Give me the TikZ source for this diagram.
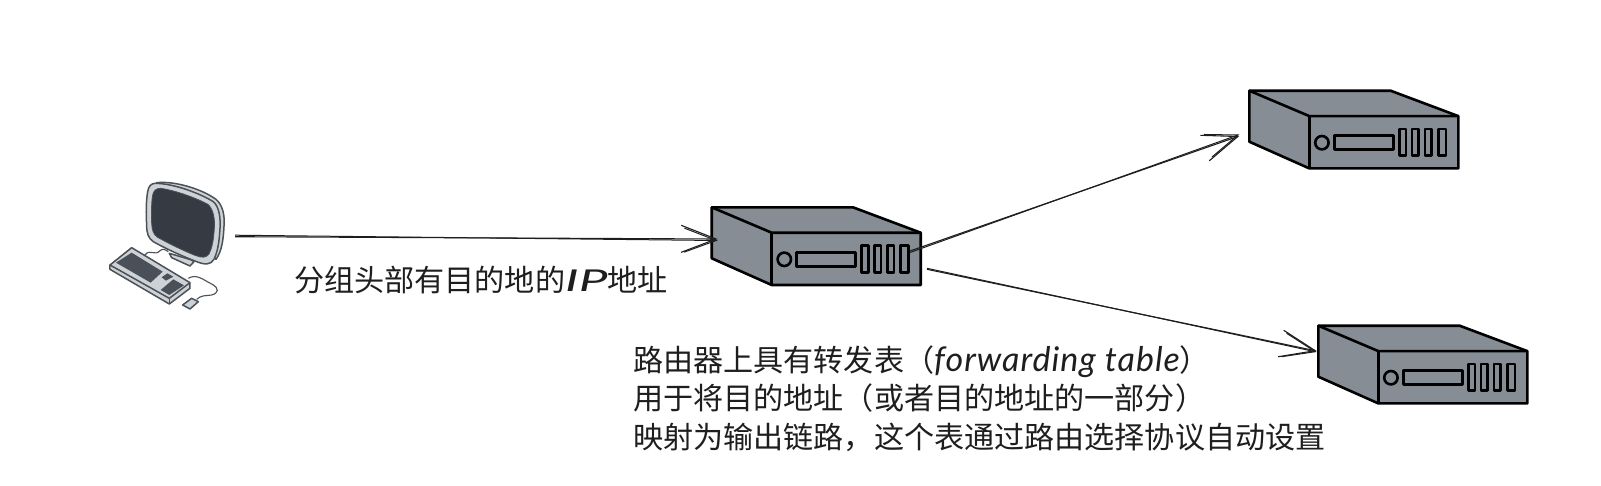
\documentclass[tikz,border=0pt]{standalone}
\usepackage{fontspec}
\setmainfont{Noto Sans CJK SC}
\newfontfamily\handfont[LetterSpace=3]{Lato Italic}
\newfontfamily\handwide[FakeStretch=1.7]{Lato Italic}
\usetikzlibrary{arrows.meta}
\definecolor{routergray}{HTML}{868D94}
\definecolor{ink}{HTML}{1E1E1E}
\definecolor{screen}{HTML}{363A42}
\definecolor{keydark}{HTML}{4A5057}
\definecolor{shell}{HTML}{CDD2D7}
\definecolor{pcline}{HTML}{4C5158}
\tikzset{
  routerline/.style={draw=black,fill=routergray,line width=2.6pt,line join=round},
  pcshape/.style={draw=pcline,line width=1.5pt,line join=round},
  cable/.style={draw=pcline,line width=1.1pt},
  link/.style={draw=ink,line width=1.1pt,-{Straight Barb[length=35pt,width=27pt,line width=1.1pt]}},
  linkecho/.style={draw=ink,line width=1pt,-{Straight Barb[length=32pt,width=24pt,line width=1pt]}},
  caption/.style={text=ink,anchor=north west,align=left,inner sep=0pt,font=\fontsize{30.1pt}{38.5pt}\selectfont},
  pics/router/.style={code={
    \path[routerline] (0,0) -- (141.3,0) -- (209,25.4) -- (209,77.7) -- (60,77.7) -- (0,51) -- cycle;
    \path[routerline,fill=none] (0,0) -- (60,25.4) -- (209,25.4);
    \path[routerline,fill=none] (60,25.4) -- (60,77.7);
    \path[routerline,fill=none] (72.6,52) circle (6.7);
    \path[routerline,fill=none] (85,45) rectangle (144,59);
    \path[routerline,fill=none] (150,38.4) rectangle (156.6,65);
    \path[routerline,fill=none] (162.6,38.4) rectangle (169.3,65);
    \path[routerline,fill=none] (175.6,38.4) rectangle (182.3,65);
    \path[routerline,fill=none] (189,38.4) rectangle (196.6,65);
    \coordinate (-out) at (198.3,43.7);
    \coordinate (-outlow) at (215.3,62);
  }}
}
\begin{document}
\begin{tikzpicture}[x=1pt,y=-1pt]
\useasboundingbox (0,0) rectangle (1601,485);
\fill[white] (0,0) rectangle (1601,485);
% computer
\begin{scope}[shift={(90,160)},x=0.3333pt,y=-0.3333pt]
  \path[cable] (165,285) .. controls (180,265) and (195,290) .. (210,272) .. controls (218,265) and (225,268) .. (235,275);
  \path[pcshape,fill=shell] (238,280) -- (305,300) -- (312,305) -- (300,318) -- (245,293) -- cycle;
  \path[pcshape,fill=shell] (200,68) .. controls (260,62) and (340,90) .. (378,118) .. controls (398,135) and (405,165) .. (402,200) .. controls (400,240) and (395,275) .. (378,298) -- (300,200) -- cycle;
  \path[pcshape,fill=shell] (195,70) .. controls (250,70) and (330,100) .. (370,125) .. controls (388,140) and (392,175) .. (390,205) .. controls (388,240) and (385,270) .. (372,298) .. controls (362,315) and (345,315) .. (320,305) .. controls (280,290) and (225,265) .. (190,245) .. controls (175,235) and (170,220) .. (170,195) .. controls (168,160) and (168,125) .. (173,95) .. controls (176,78) and (183,71) .. (195,70) -- cycle;
  \path[draw=pcline,line width=0.8pt,fill=screen] (212,85) .. controls (260,92) and (320,115) .. (354,133) .. controls (370,148) and (375,175) .. (373,205) .. controls (371,235) and (368,260) .. (357,282) .. controls (349,294) and (335,294) .. (315,286) .. controls (280,272) and (235,250) .. (203,232) .. controls (190,224) and (186,210) .. (185,190) .. controls (184,160) and (184,130) .. (188,105) .. controls (191,92) and (198,85) .. (212,85) -- cycle;
  \path[pcshape,fill=shell] (125,263) -- (300,368) -- (300,385) -- (238,432) -- (60,328) -- (60,315) -- cycle;
  \path[pcshape,fill=none] (60,315) -- (238,415) -- (300,368);
  \path[pcshape,fill=none] (238,415) -- (238,432);
  \path[fill=keydark] (125,278) -- (218,335) -- (182,368) -- (78,308) -- cycle;
  \path[fill=keydark] (232,340) -- (250,350) -- (228,362) -- (215,352) -- cycle;
  \path[fill=keydark] (250,358) -- (282,376) -- (238,405) -- (212,390) -- cycle;
  \path[pcshape,fill=shell] (278,435) -- (305,415) -- (325,425) -- (300,447) -- cycle;
  \path[cable] (295,355) .. controls (320,340) and (340,360) .. (365,372) .. controls (390,385) and (385,400) .. (365,405) .. controls (345,408) and (335,405) .. (320,418);
\end{scope}
\coordinate (pc-out) at (235,236.7);
% routers
\pic (r1) at (711.7,207.3) {router};
\pic (r2) at (1249.3,90.7) {router};
\pic (r3) at (1318.3,325.7) {router};
\coordinate (r1-tip) at (717.7,239);
\coordinate (r2-tip) at (1239.3,136);
\coordinate (r3-tip) at (1316.7,351);
% connectors
\path[link] (pc-out) -- (r1-tip);
\path[linkecho] ([yshift=1.5pt]pc-out) -- ([yshift=-1.5pt]r1-tip);
\path[link] (r1-out) -- (r2-tip);
\path[linkecho] ([yshift=-1.5pt]r1-out) -- ([yshift=1.5pt]r2-tip);
\path[link] (r1-outlow) -- (r3-tip);
\path[linkecho] ([yshift=1pt]r1-outlow) -- ([yshift=-1pt]r3-tip);
% labels
\node[caption] (headerlabel) at (294,266) {分组头部有目的地的{\handwide IP}地址};
\node[caption] (tablelabel) at (633,345.5) {路由器上具有转发表（{\handfont\fontsize{34pt}{38.5pt}\selectfont forwarding table}）\\用于将目的地址（或者目的地址的一部分）\\映射为输出链路，这个表通过路由选择协议自动设置};
\end{tikzpicture}
\end{document}
